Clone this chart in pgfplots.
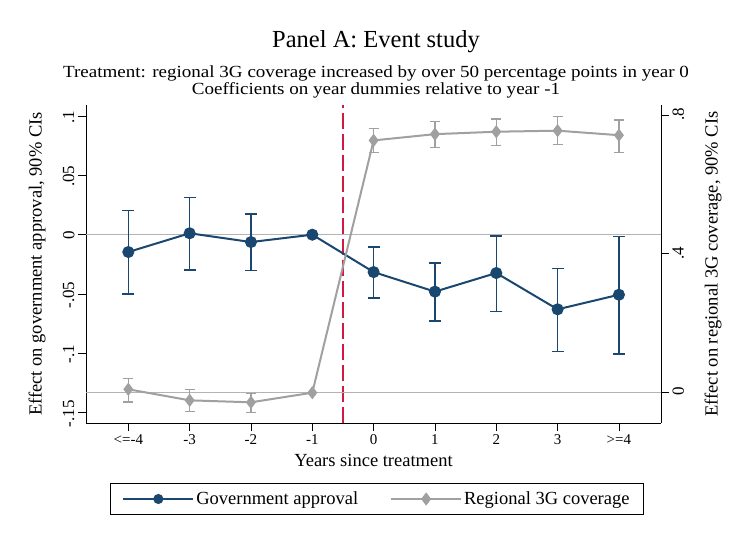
\documentclass[border=0pt]{standalone}
\usepackage{fontspec}
\setmainfont{Liberation Serif}
\usepackage{graphicx}
\usepackage{pgfplots}
\usepackage{pgfplotstable}
\pgfplotsset{compat=1.18}
\definecolor{navy}{RGB}{26,71,111}
\definecolor{lgray}{RGB}{160,160,160}
\definecolor{refgray}{RGB}{180,180,180}
\definecolor{crim}{RGB}{208,26,64}

\pgfplotstableread{
x y lo hi
0 -0.0146 -0.0500 0.0202
1 0.0012 -0.0298 0.0312
2 -0.0062 -0.0300 0.0175
3 0.0000 0.0000 0.0000
4 -0.0315 -0.0534 -0.0104
5 -0.0480 -0.0728 -0.0239
6 -0.0323 -0.0649 -0.0011
7 -0.0629 -0.0986 -0.0284
8 -0.0506 -0.1006 -0.0014
}\gov
\pgfplotstableread{
x y lo hi
0 0.0098 -0.0268 0.0415
1 -0.0220 -0.0540 0.0087
2 -0.0277 -0.0566 -0.0030
3 0.0000 0.0000 0.0000
4 0.7270 0.6920 0.7610
5 0.7450 0.7060 0.7810
6 0.7520 0.7120 0.7890
7 0.7550 0.7160 0.7950
8 0.7420 0.6930 0.7860
}\cov

\newcommand{\fs}[1]{\fontsize{#1bp}{#1bp}\selectfont}

\begin{document}
\begin{tikzpicture}
\path[use as bounding box] (0,0) rectangle (737bp,536bp);
\node[font=\fs{24.5}] at (376bp,494bp) {Panel A: Event study};
\node[font=\fs{17}, inner sep=0pt] at (376bp,463bp) {\scalebox{1.12}[1]{Treatment: regional 3G coverage increased by over 50 percentage points in year 0}};
\node[font=\fs{17}, inner sep=0pt] at (376bp,446bp) {\scalebox{1.12}[1]{Coefficients on year dummies relative to year -1}};

\pgfplotsset{
  base/.style={
    at={(86bp,113bp)}, anchor=south west,
    width=575bp, height=318bp, scale only axis,
    xmin=-0.69, xmax=8.686,
    tick align=outside,
    major tick length=8bp,
    every tick/.style={black, line width=0.8pt},
    axis line style={black, line width=0.8pt},
    /pgf/number format/assume math mode=true,
    clip=false,
  }
}

\begin{axis}[base,
  axis x line*=bottom, axis y line*=left,
  ymin=-0.1587, ymax=0.1093,
  xtick={0,...,8},
  xticklabels={{<=-4},{-3},{-2},{-1},{0},{1},{2},{3},{>=4}},
  xticklabel style={font=\fs{15}, anchor=north, yshift=0bp},
  ytick={-0.15,-0.1,-0.05,0,0.05,0.1},
  yticklabels={{-.15},{-.1},{-.05},{0},{.05},{.1}},
  yticklabel style={font=\fs{17}, rotate=90, anchor=south, xshift=-1bp},
  xlabel={Years since treatment},
  every axis x label/.style={at={(axis description cs:0.5,-0.119)}, anchor=center, font=\fs{18.5}},
  ylabel={Effect on government approval, 90\% CIs},
  every axis y label/.style={at={(axis description cs:-0.0852,0.5)}, rotate=90, anchor=center, font=\fs{18.5}},
]
\addplot[crim, line width=1.8bp, dash pattern=on 16bp off 5bp] coordinates {(3.5,-0.1587) (3.5,0.1093)};
\addplot[refgray, line width=1.2bp] coordinates {(-0.69,0) (8.686,0)};
\addplot[navy, line width=2bp, mark=*, mark size=5bp, mark options={solid, fill=navy, draw=navy},
  error bars/.cd, y dir=both, y explicit,
  error bar style={navy, line width=1.3bp},
  error mark options={navy, rotate=90, mark size=6bp, line width=1.3bp}]
  table[x=x, y=y, y error plus expr=\thisrow{hi}-\thisrow{y}, y error minus expr=\thisrow{y}-\thisrow{lo}] {\gov};
\end{axis}

\begin{axis}[base,
  axis x line=none, axis y line*=right,
  ymin=-0.0873, ymax=0.829,
  ytick={0,0.4,0.8},
  yticklabels={{0},{.4},{.8}},
  yticklabel style={font=\fs{17}, rotate=90, anchor=north, xshift=1bp},
  ylabel={Effect on regional 3G coverage, 90\% CIs},
  every axis y label/.style={at={(axis description cs:1.0904,0.5)}, rotate=90, anchor=center, font=\fs{18.5}},
  legend columns=2,
  legend style={at={(axis description cs:0.506,-0.239)}, anchor=center, draw=black, line width=0.8pt,
    font=\fs{18.5}, inner xsep=12bp, inner ysep=6bp,
    /tikz/every even column/.append style={column sep=30bp}},
  legend image code/.code={\draw[mark repeat=2,mark phase=2,#1] plot coordinates {(0bp,0bp) (35bp,0bp) (70bp,0bp)};},
]
\addlegendimage{navy, line width=2bp, mark=*, mark size=4bp, mark options={solid, fill=navy, draw=navy}}
\addlegendentry{Government approval}
\addplot[refgray, line width=1.2bp, forget plot] coordinates {(-0.69,0) (8.686,0)};
\addplot[lgray, line width=2bp, mark=diamond*, mark size=5bp, mark options={solid, fill=lgray, draw=lgray},
  error bars/.cd, y dir=both, y explicit,
  error bar style={lgray, line width=1.3bp},
  error mark options={lgray, rotate=90, mark size=5bp, line width=1.3bp}]
  table[x=x, y=y, y error plus expr=\thisrow{hi}-\thisrow{y}, y error minus expr=\thisrow{y}-\thisrow{lo}] {\cov};
\addlegendentry{Regional 3G coverage}
\end{axis}
\end{tikzpicture}
\end{document}
